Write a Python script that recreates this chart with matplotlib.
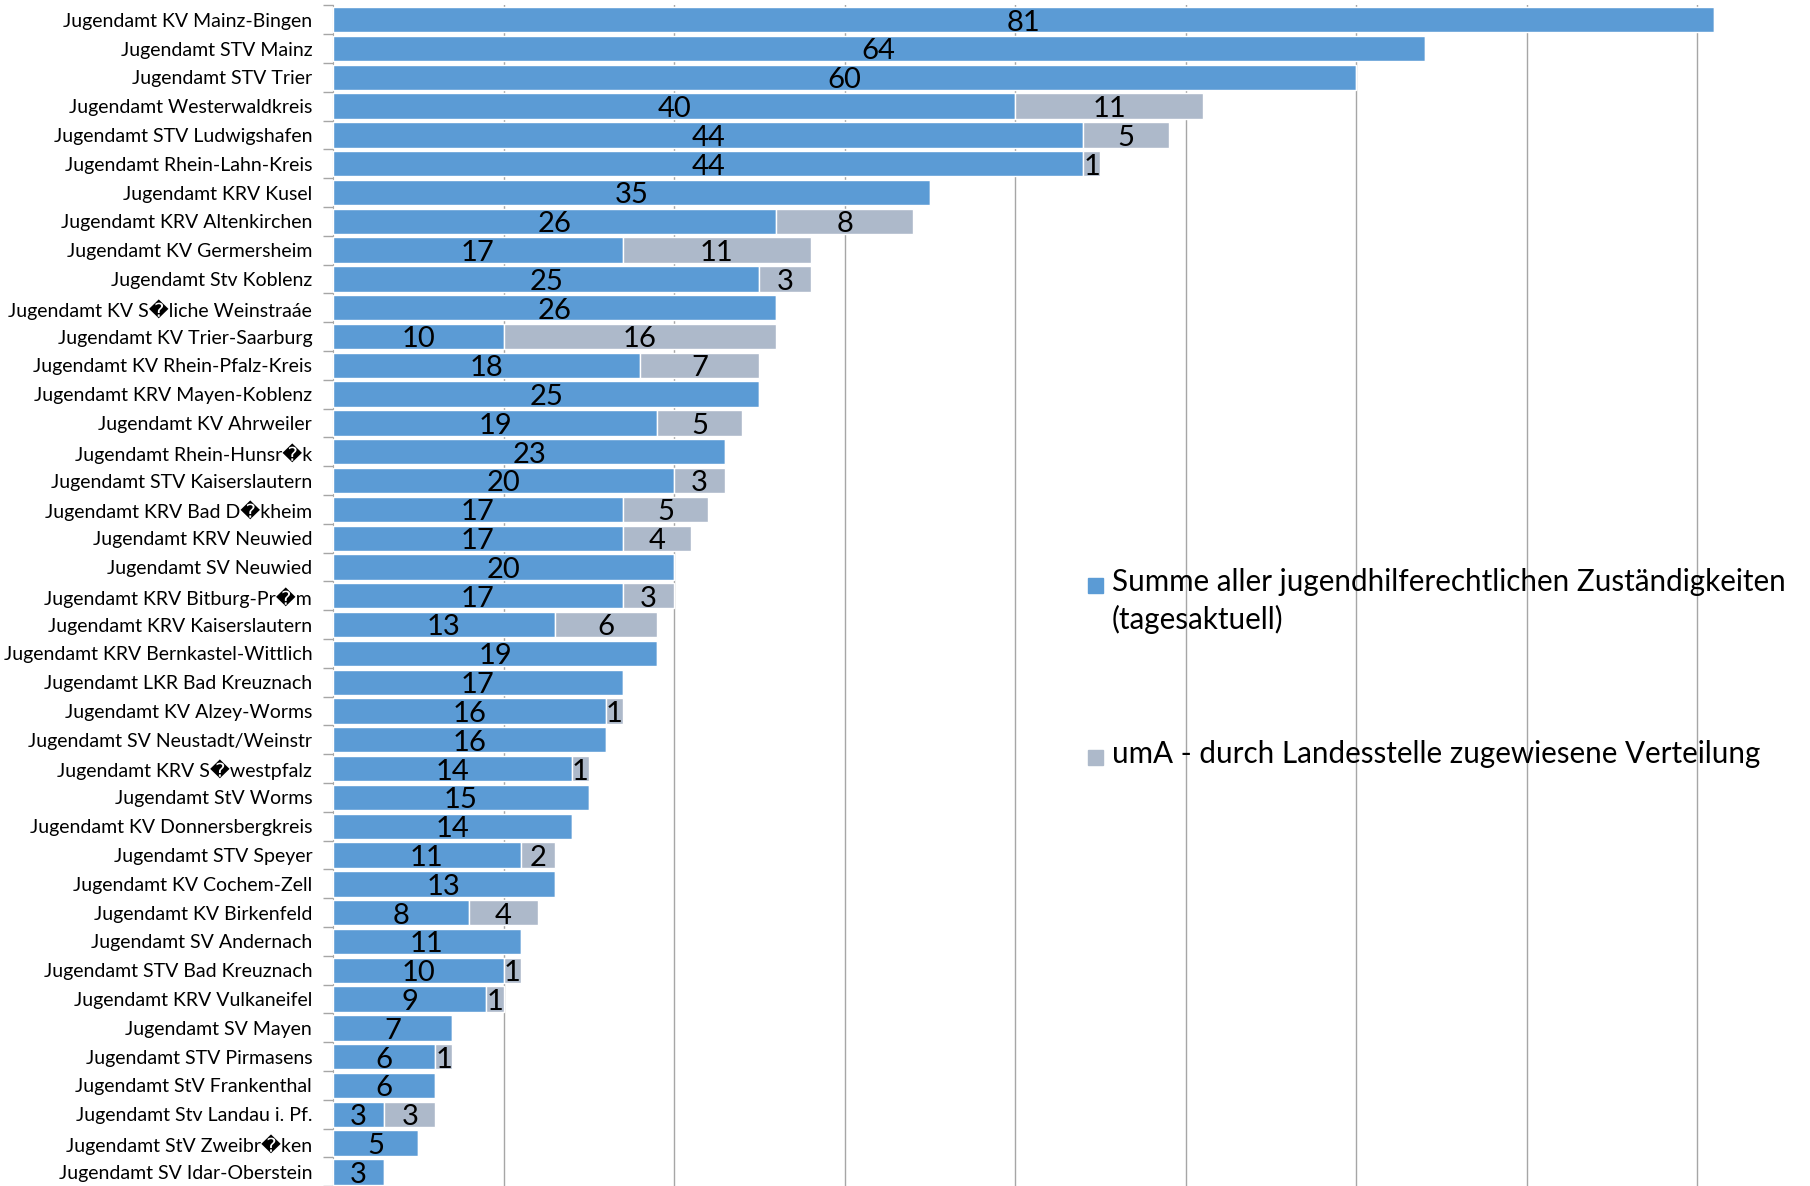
import matplotlib.pyplot as plt
import numpy as np

BOX = "\ufffd"

# categories (top to bottom) and values
labels = [
    "Jugendamt KV Mainz-Bingen",
    "Jugendamt STV Mainz",
    "Jugendamt STV Trier",
    "Jugendamt Westerwaldkreis",
    "Jugendamt STV Ludwigshafen",
    "Jugendamt Rhein-Lahn-Kreis",
    "Jugendamt KRV Kusel",
    "Jugendamt KRV Altenkirchen",
    "Jugendamt KV Germersheim",
    "Jugendamt Stv Koblenz",
    "Jugendamt KV S" + BOX + "liche Weinstraáe",
    "Jugendamt KV Trier-Saarburg",
    "Jugendamt KV Rhein-Pfalz-Kreis",
    "Jugendamt KRV Mayen-Koblenz",
    "Jugendamt KV Ahrweiler",
    "Jugendamt Rhein-Hunsr" + BOX + "k",
    "Jugendamt STV Kaiserslautern",
    "Jugendamt KRV Bad D" + BOX + "kheim",
    "Jugendamt KRV Neuwied",
    "Jugendamt SV Neuwied",
    "Jugendamt KRV Bitburg-Pr" + BOX + "m",
    "Jugendamt KRV Kaiserslautern",
    "Jugendamt KRV Bernkastel-Wittlich",
    "Jugendamt LKR Bad Kreuznach",
    "Jugendamt KV Alzey-Worms",
    "Jugendamt SV Neustadt/Weinstr",
    "Jugendamt KRV S" + BOX + "westpfalz",
    "Jugendamt StV Worms",
    "Jugendamt KV Donnersbergkreis",
    "Jugendamt STV Speyer",
    "Jugendamt KV Cochem-Zell",
    "Jugendamt KV Birkenfeld",
    "Jugendamt SV Andernach",
    "Jugendamt STV Bad Kreuznach",
    "Jugendamt KRV Vulkaneifel",
    "Jugendamt SV Mayen",
    "Jugendamt STV Pirmasens",
    "Jugendamt StV Frankenthal",
    "Jugendamt Stv Landau i. Pf.",
    "Jugendamt StV Zweibr" + BOX + "ken",
    "Jugendamt SV Idar-Oberstein",
]
summe = [81, 64, 60, 40, 44, 44, 35, 26, 17, 25, 26, 10, 18, 25, 19, 23, 20, 17, 17, 20,
         17, 13, 19, 17, 16, 16, 14, 15, 14, 11, 13, 8, 11, 10, 9, 7, 6, 6, 3, 5, 3]
uma = [0, 0, 0, 11, 5, 1, 0, 8, 11, 3, 0, 16, 7, 0, 5, 0, 3, 5, 4, 0,
       3, 6, 0, 0, 1, 0, 1, 0, 0, 2, 0, 4, 0, 1, 1, 0, 1, 0, 3, 0, 0]
series_names = ["Summe aller jugendhilferechtlichen Zuständigkeiten\n(tagesaktuell)",
                "umA - durch Landesstelle zugewiesene Verteilung"]

blue = "#5B9BD5"
grey = "#ADB9CA"
fam = ["Lato", "DejaVu Sans"]
W, H = 1810, 1186

fig = plt.figure(figsize=(W / 100, H / 100), dpi=100)
ax = fig.add_axes([333 / W, -0.3 / H, 1 - 333 / W, 1181 / H])

y = np.arange(len(labels))
s = np.array(summe)
u = np.array(uma)
h = 0.88

ax.barh(y, s, height=h, color=blue, edgecolor="white", linewidth=1, zorder=3)
ax.barh(y, u, left=s, height=h, color=grey, edgecolor="white", linewidth=1, zorder=3)

for i in range(len(labels)):
    ax.text(s[i] / 2, y[i] + 0.1, str(s[i]), ha="center", va="center",
            fontsize=21, family=fam, zorder=4)
    if u[i] > 0:
        ax.text(s[i] + u[i] / 2, y[i] + 0.1, str(u[i]), ha="center", va="center",
                fontsize=21, family=fam, zorder=4)

ax.set_ylim(len(labels) - 0.5, -0.5)
ax.set_xlim(0, 86.6)

ax.set_yticks(y)
ax.set_yticklabels(labels, family=fam, fontsize=14)
ax.tick_params(axis="y", which="major", length=0, pad=15)
ax.set_yticks(np.arange(-0.5, len(labels), 1), minor=True)
ax.tick_params(axis="y", which="minor", length=7, color="#A6A6A6", width=1)

ax.set_xticks(np.arange(10, 81, 10))
ax.tick_params(axis="x", length=0, labelbottom=False)
ax.grid(axis="x", color="#A6A6A6", linewidth=1, zorder=0)

for side in ["top", "right", "bottom"]:
    ax.spines[side].set_visible(False)
ax.spines["left"].set_color("#A6A6A6")

# legend drawn by hand so the marker sits on the first text line
legend_rows = [585, 757]
for name, col, ypx in zip(series_names, [blue, grey], legend_rows):
    fig.patches.append(plt.Rectangle((1088 / W, 1 - (ypx + 7.5) / H), 15 / W, 15 / H,
                                     transform=fig.transFigure, color=col))
    fig.text(1112 / W, 1 - (ypx - 17) / H, name, ha="left", va="top",
             fontsize=21.3, family=fam, linespacing=1.35)

fig.savefig("out.png", dpi=100)
